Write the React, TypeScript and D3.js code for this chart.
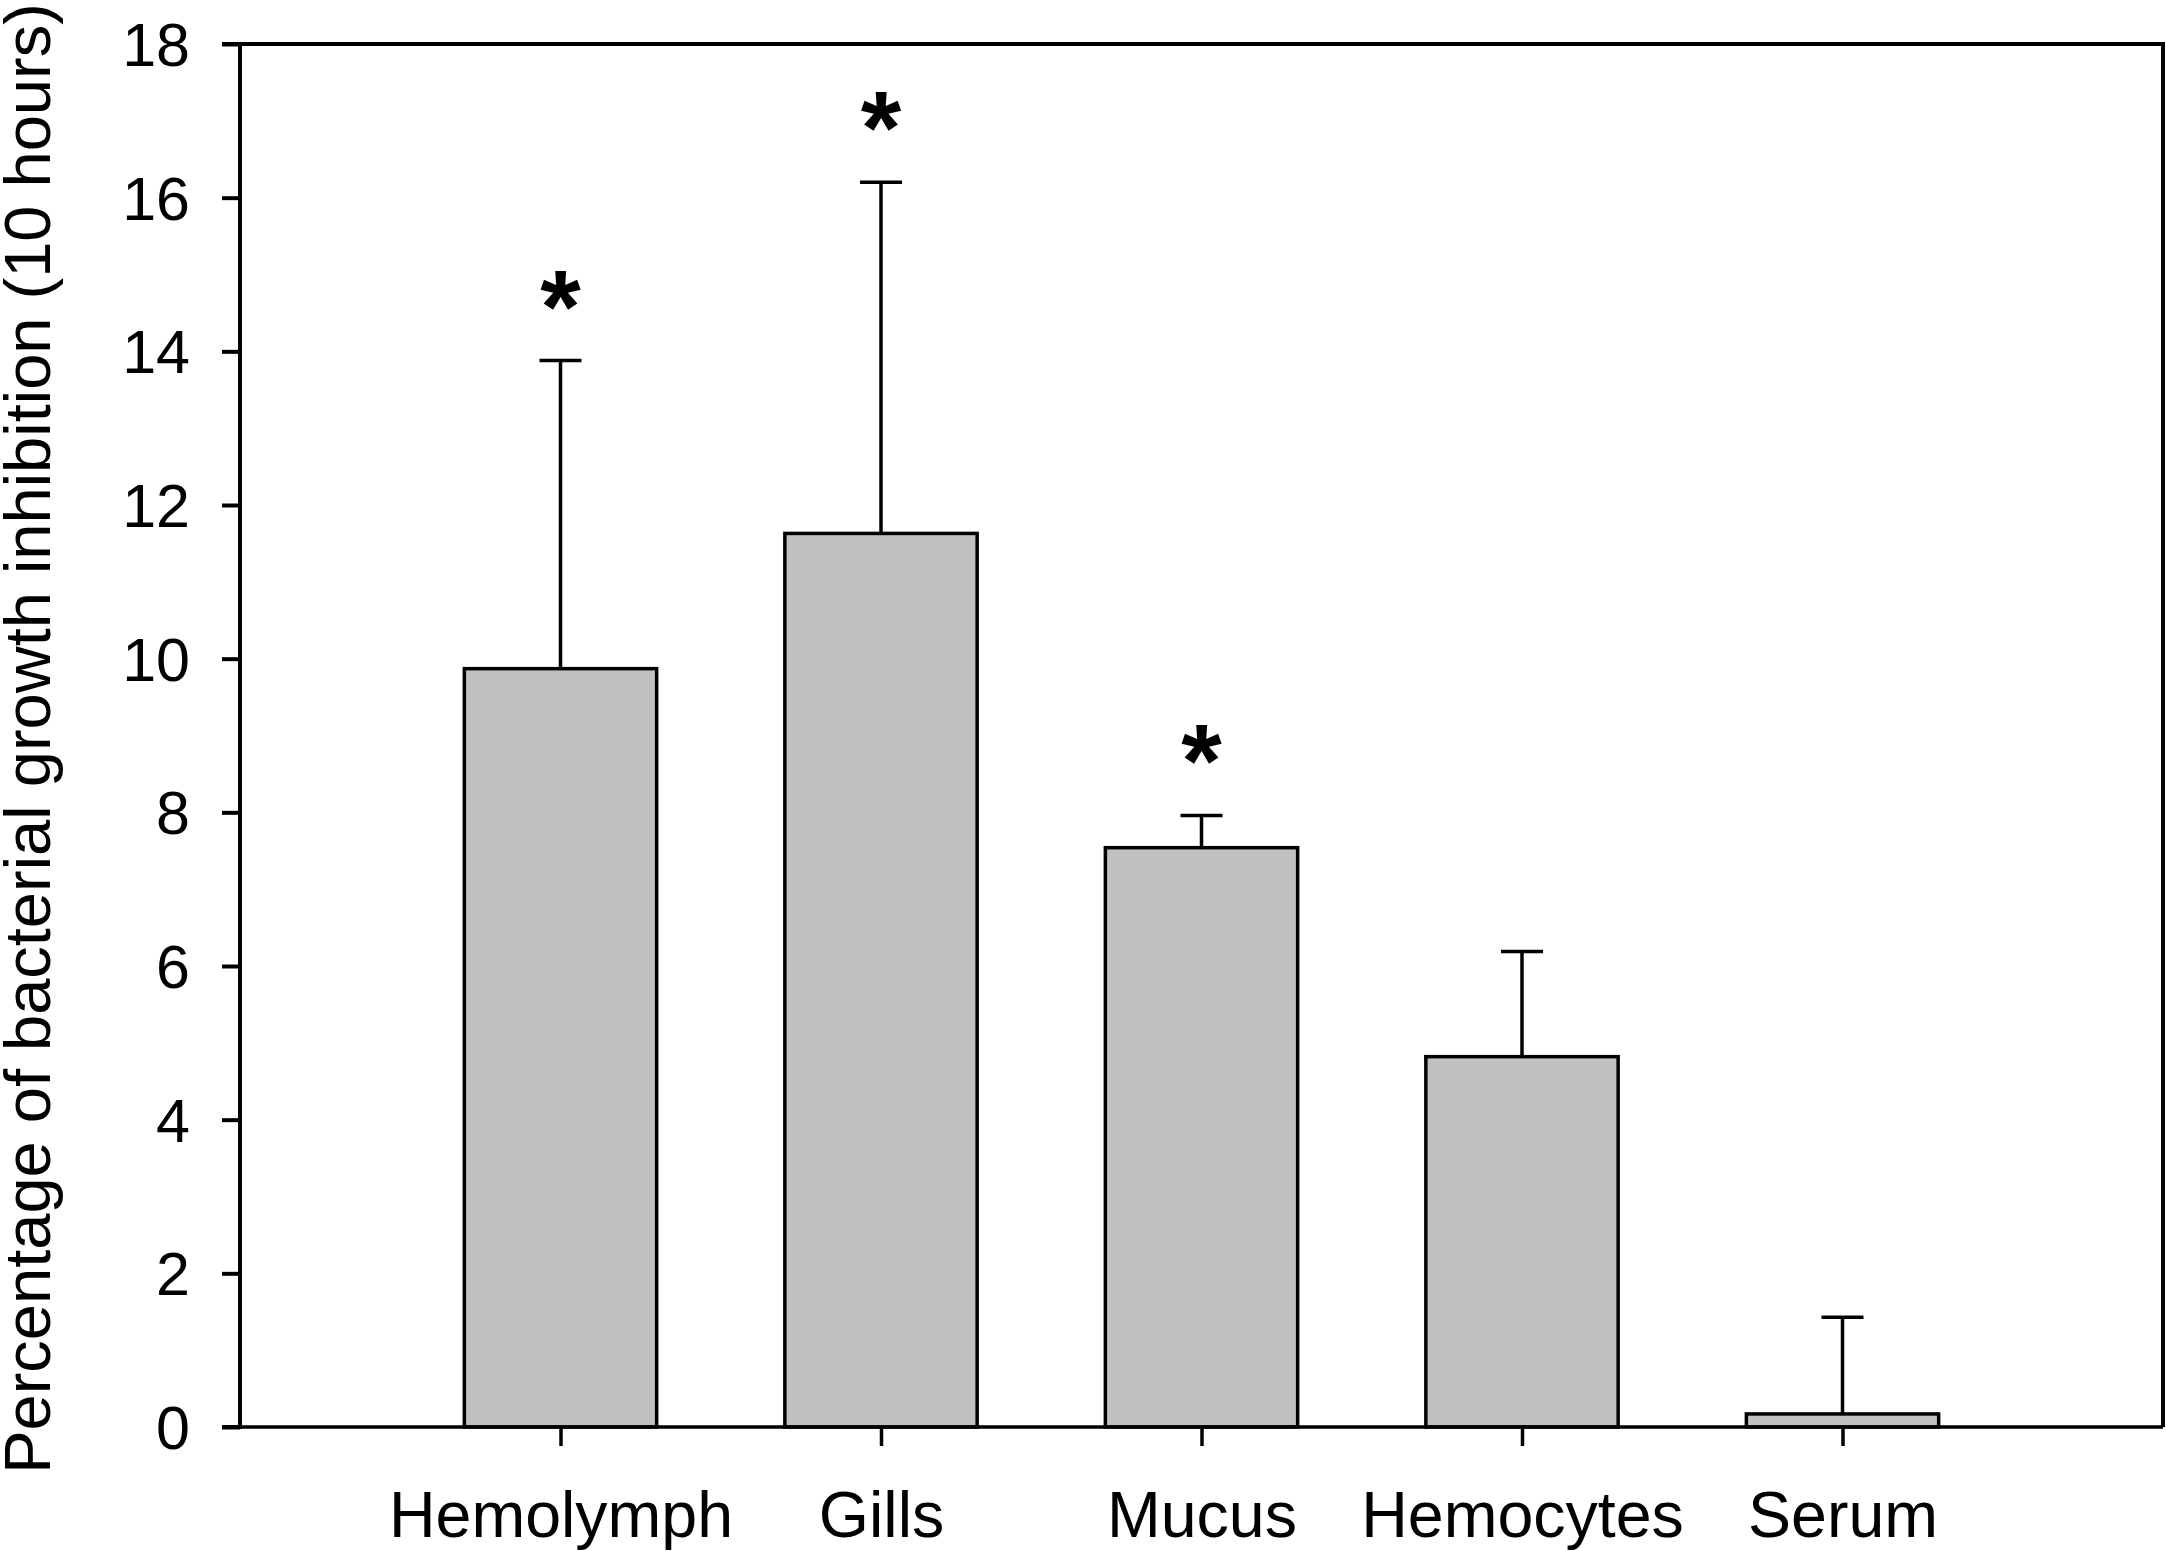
import React, { useEffect, useRef } from "react";
import * as d3 from "d3";

const categories = ["Hemolymph", "Gills", "Mucus", "Hemocytes", "Serum"];
const means = [9.87, 11.63, 7.54, 4.82, 0.17];
const errors = [4.01, 4.57, 0.42, 1.37, 1.26];
const significant = [true, true, true, false, false];
const yTicks = [0, 2, 4, 6, 8, 10, 12, 14, 16, 18];

const W = 2166;
const H = 1551;
const FONT = "'Liberation Sans', Arial, sans-serif";

const App: React.FC = () => {
  const svgRef = useRef<SVGSVGElement>(null);

  useEffect(() => {
    if (!svgRef.current) return;
    const svg = d3.select(svgRef.current);
    svg.selectAll("*").remove();

    const left = 240;
    const right = 2163;
    const top = 44;
    const bottom = 1427;

    const x = d3.scaleLinear().domain([0, categories.length + 1]).range([left, right]);
    const y = d3.scaleLinear().domain([0, 18]).range([bottom, top]);
    const barW = (x(1) - x(0)) * 0.6;

    // bars
    svg
      .append("g")
      .selectAll("rect")
      .data(means)
      .enter()
      .append("rect")
      .attr("x", (_, i) => x(i + 1) - barW / 2)
      .attr("y", (d) => y(d))
      .attr("width", barW)
      .attr("height", (d) => bottom - y(d))
      .attr("fill", "#c0c0c0")
      .attr("stroke", "#000")
      .attr("stroke-width", 3.5);

    // error bars (upper only)
    const capW = 42;
    const eb = svg.append("g").attr("stroke", "#000").attr("stroke-width", 3.5);
    means.forEach((m, i) => {
      const cx = x(i + 1);
      eb.append("line")
        .attr("x1", cx)
        .attr("x2", cx)
        .attr("y1", y(m))
        .attr("y2", y(m + errors[i]));
      eb.append("line")
        .attr("x1", cx - capW / 2)
        .attr("x2", cx + capW / 2)
        .attr("y1", y(m + errors[i]))
        .attr("y2", y(m + errors[i]));
    });

    // significance asterisks
    svg
      .append("g")
      .selectAll("text")
      .data(means.map((m, i) => ({ m, i })).filter((d) => significant[d.i]))
      .enter()
      .append("text")
      .attr("x", (d) => x(d.i + 1))
      .attr("y", (d) => y(d.m + errors[d.i]) - 18)
      .attr("text-anchor", "middle")
      .style("font-family", FONT)
      .style("font-weight", "bold")
      .style("font-size", "104px")
      .text("*");

    // frame: top and right
    svg
      .append("path")
      .attr("d", `M${left - 18},${top}H${right}V${bottom}`)
      .attr("fill", "none")
      .attr("stroke", "#000")
      .attr("stroke-width", 4);

    // y axis
    const yAxis = svg
      .append("g")
      .attr("transform", `translate(${left},0)`)
      .call(d3.axisLeft(y).tickValues(yTicks).tickSize(18).tickPadding(32).tickFormat(d3.format("d")));
    yAxis.selectAll("path, line").attr("stroke", "#000").attr("stroke-width", 4);
    yAxis.select(".domain").attr("d", `M-18,${top}H0V${bottom}H-18`);
    yAxis
      .selectAll("text")
      .attr("fill", "#000")
      .attr("dy", "0.35em")
      .style("font-family", FONT)
      .style("font-size", "61px");

    // x axis
    const xAxis = svg
      .append("g")
      .attr("transform", `translate(0,${bottom})`)
      .call(
        d3
          .axisBottom(x)
          .tickValues(categories.map((_, i) => i + 1))
          .tickSize(19)
          .tickFormat((d) => categories[(d as number) - 1])
      );
    xAxis.select(".domain").attr("d", `M${left},0H${right}`);
    xAxis.selectAll("path, line").attr("stroke", "#000").attr("stroke-width", 3.5);
    xAxis
      .selectAll("text")
      .attr("fill", "#000")
      .attr("y", 110)
      .attr("dy", 0)
      .style("font-family", FONT)
      .style("font-size", "64.5px");

    // y title
    svg
      .append("text")
      .attr("transform", `translate(50,${(1470 + 7) / 2}) rotate(-90)`)
      .attr("text-anchor", "middle")
      .style("font-family", FONT)
      .style("font-size", "65px")
      .attr("fill", "#000")
      .text("Percentage of bacterial growth inhibition (10 hours)");
  }, []);

  return (
    <svg
      ref={svgRef}
      width={W}
      height={H}
      style={{ position: "absolute", left: 0, top: 0, background: "#fff" }}
    ></svg>
  );
};

export default App;
